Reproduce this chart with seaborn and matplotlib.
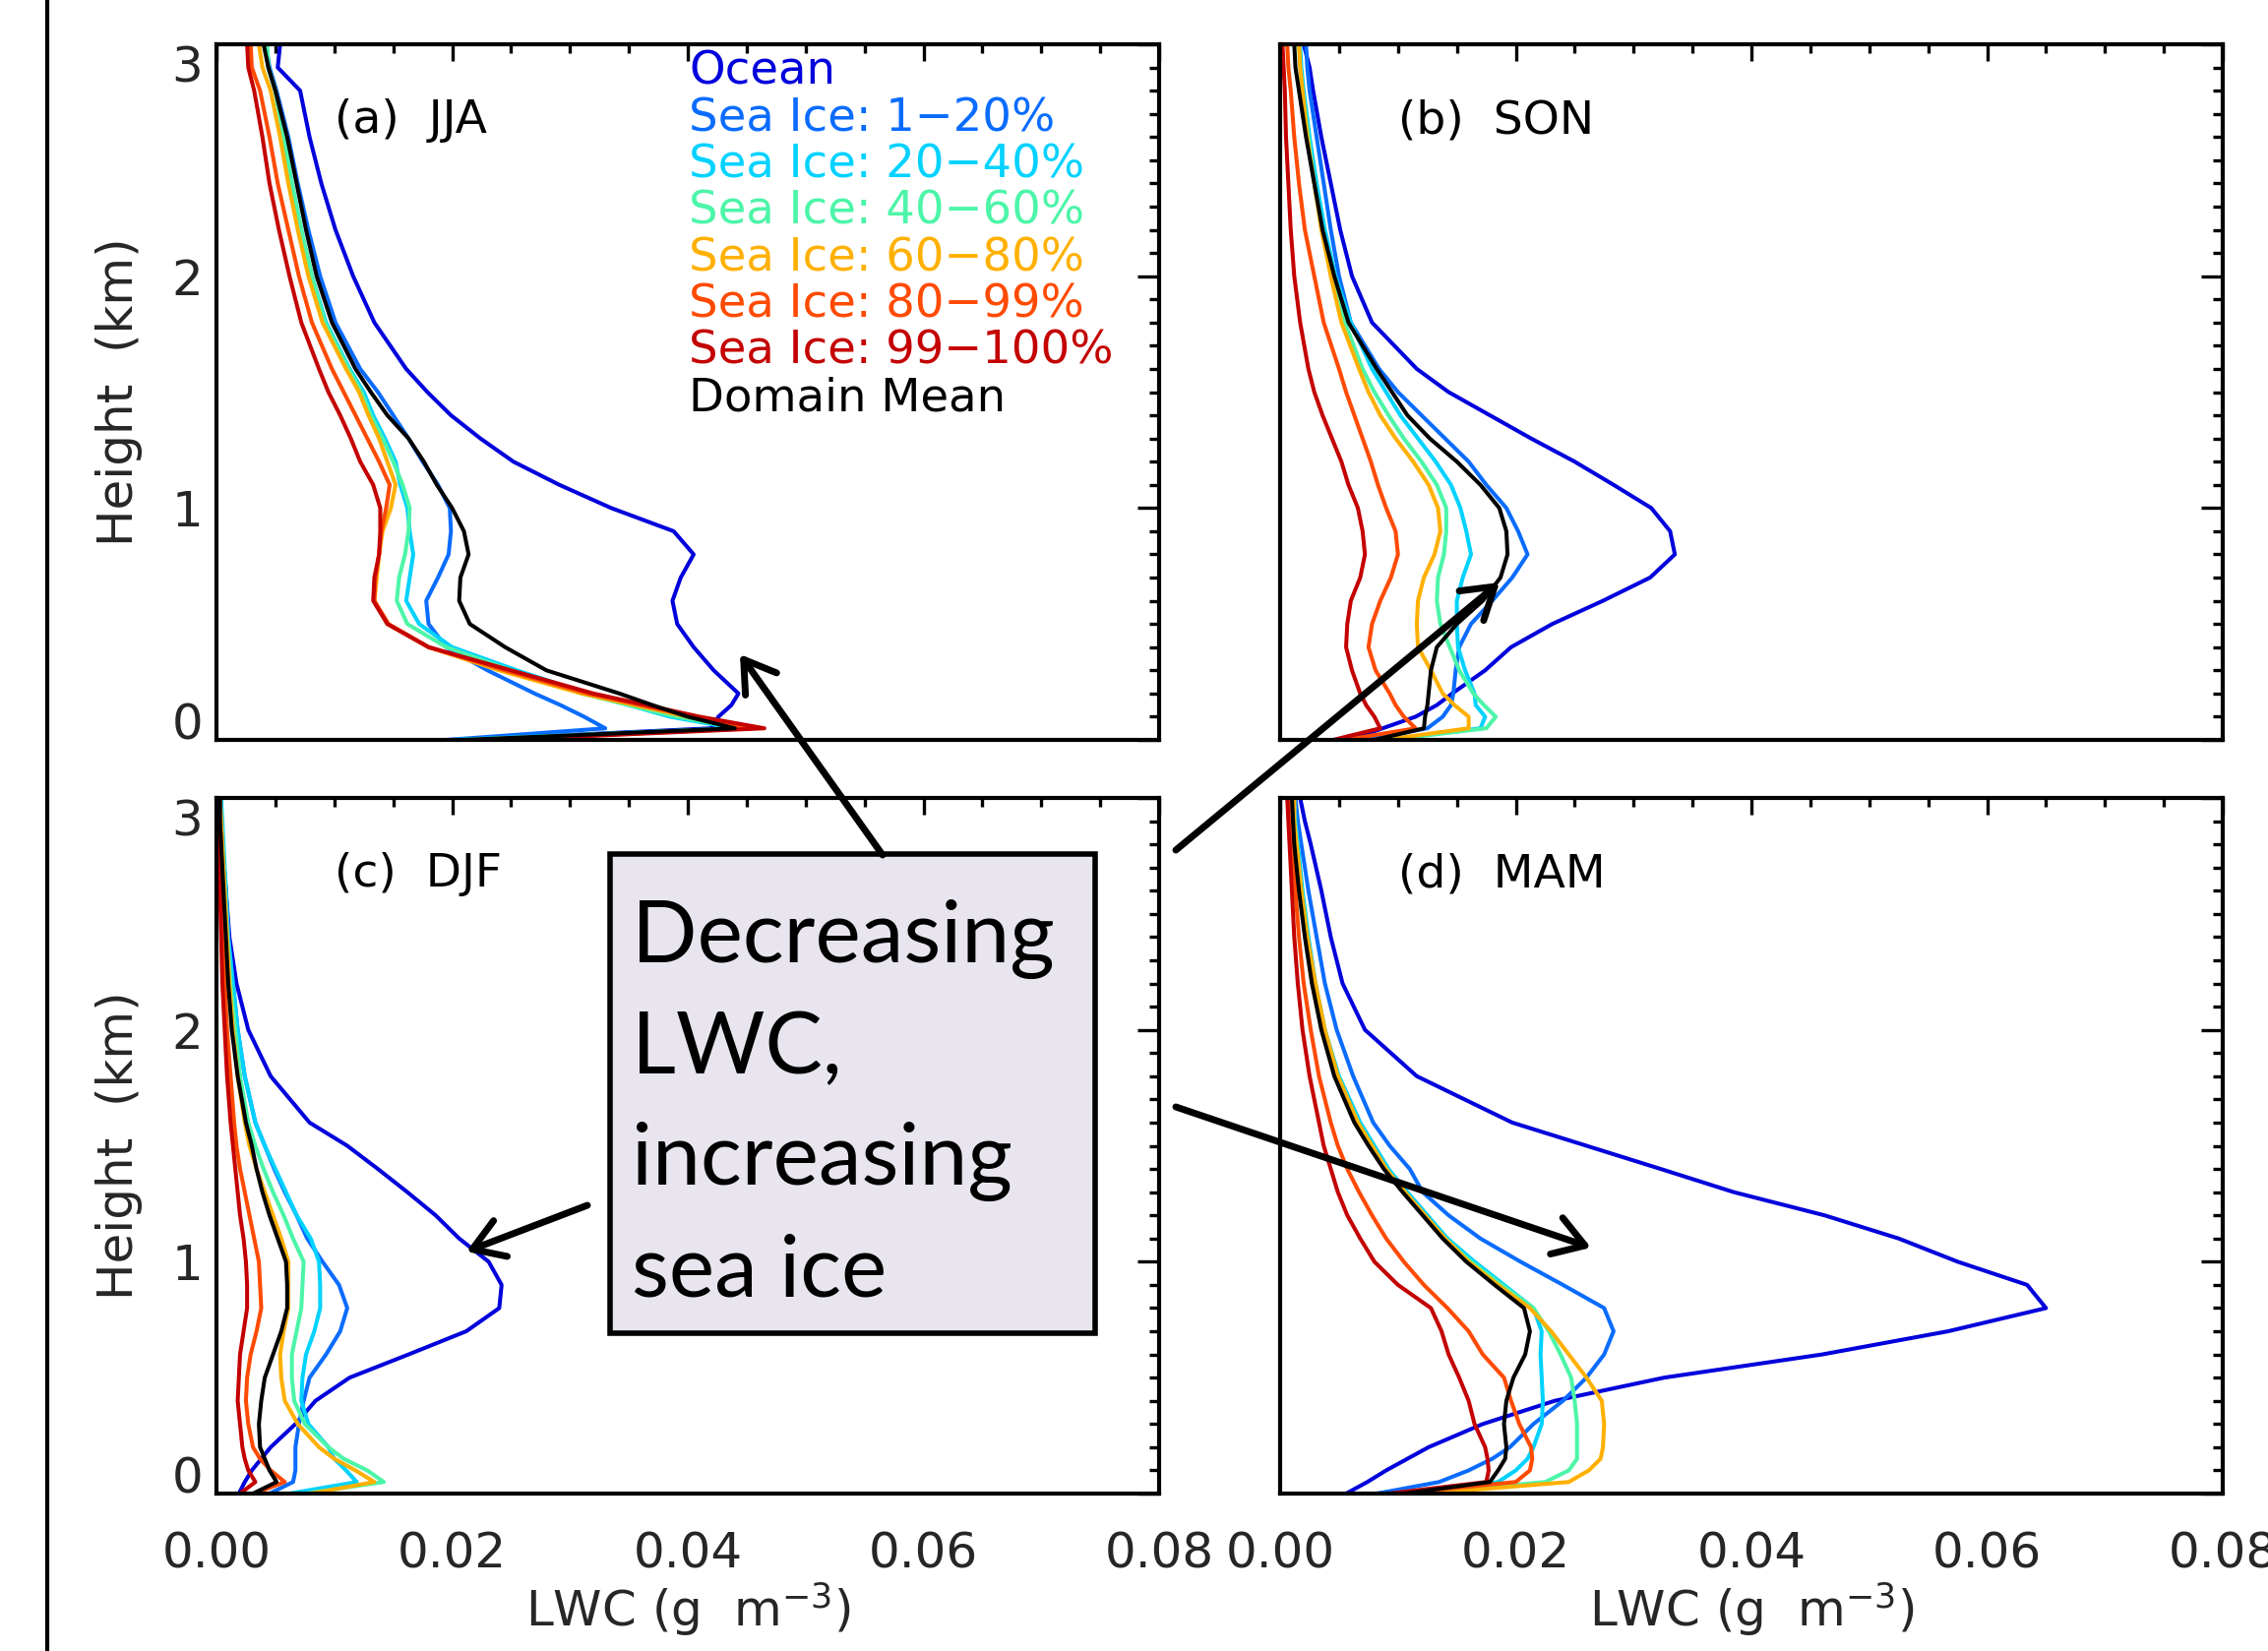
import numpy as np
import pandas as pd
import matplotlib
matplotlib.use("Agg")
import matplotlib.pyplot as plt
import seaborn as sns
from matplotlib.patches import Rectangle, FancyArrowPatch
from matplotlib.lines import Line2D
from matplotlib.ticker import FixedLocator, MultipleLocator, FormatStrFormatter

# ---------------- data ----------------
heights = [0.0, 0.05, 0.1, 0.15, 0.2, 0.3, 0.4, 0.5, 0.6, 0.7, 0.8, 0.9, 1.0, 1.1,
           1.2, 1.3, 1.4, 1.5, 1.6, 1.8, 2.0, 2.2, 2.4, 2.6, 2.8, 2.9, 3.0]

series_names = ["Ocean", "Sea Ice: 1\u221220%", "Sea Ice: 20\u221240%", "Sea Ice: 40\u221260%",
                "Sea Ice: 60\u221280%", "Sea Ice: 80\u221299%", "Sea Ice: 99\u2212100%", "Domain Mean"]
series_colors = ["#0000DC", "#0A6CFF", "#00D2FF", "#4CF5A8", "#FFB000", "#FF4A00", "#C40000", "#000000"]

# (a) JJA
jja_ocean = [0.021, 0.0420, 0.0426, 0.0437, 0.0443, 0.0422, 0.0405, 0.0391, 0.0387, 0.0394, 0.0405, 0.0388, 0.0335, 0.0291, 0.0252, 0.0224, 0.0199, 0.0179, 0.0161, 0.0134, 0.0116, 0.0101, 0.0089, 0.0079, 0.0071, 0.0052, 0.0054]
jja_si_1_20 = [0.0195, 0.0330, 0.0312, 0.0292, 0.0270, 0.0230, 0.0195, 0.0180, 0.0178, 0.0188, 0.0197, 0.0199, 0.0198, 0.0188, 0.0175, 0.0163, 0.0150, 0.0137, 0.0122, 0.0101, 0.0088, 0.0078, 0.0069, 0.0061, 0.0051, 0.0045, 0.0042]
jja_si_20_40 = [0.020, 0.0440, 0.0385, 0.0350, 0.0315, 0.0255, 0.0200, 0.0172, 0.0161, 0.0164, 0.0167, 0.0164, 0.0162, 0.0156, 0.0152, 0.0143, 0.0133, 0.0125, 0.0113, 0.0093, 0.0081, 0.0072, 0.0064, 0.0057, 0.0050, 0.0044, 0.0042]
jja_si_40_60 = [0.021, 0.0445, 0.0390, 0.0350, 0.0310, 0.0250, 0.0195, 0.0162, 0.0153, 0.0155, 0.0160, 0.0163, 0.0164, 0.0158, 0.0150, 0.0141, 0.0131, 0.0123, 0.0112, 0.0092, 0.0081, 0.0072, 0.0064, 0.0057, 0.0050, 0.0044, 0.0043]
jja_si_60_80 = [0.022, 0.0455, 0.0400, 0.0355, 0.0310, 0.0240, 0.0180, 0.0145, 0.0134, 0.0136, 0.0138, 0.0141, 0.0148, 0.0152, 0.0145, 0.0138, 0.0129, 0.0121, 0.0110, 0.0090, 0.0078, 0.0069, 0.0061, 0.0054, 0.0046, 0.0039, 0.0036]
jja_si_80_99 = [0.023, 0.0455, 0.0405, 0.0360, 0.0315, 0.0245, 0.0180, 0.0146, 0.0134, 0.0135, 0.0138, 0.0140, 0.0144, 0.0147, 0.0138, 0.0128, 0.0118, 0.0108, 0.0098, 0.0081, 0.0070, 0.0061, 0.0052, 0.0045, 0.0037, 0.0030, 0.0029]
jja_si_99_100 = [0.024, 0.0465, 0.0410, 0.0365, 0.0320, 0.0250, 0.0180, 0.0145, 0.0133, 0.0134, 0.0138, 0.0139, 0.0139, 0.0133, 0.0122, 0.0114, 0.0105, 0.0095, 0.0087, 0.0072, 0.0062, 0.0053, 0.0045, 0.0039, 0.0032, 0.0027, 0.0026]
jja_mean = [0.021, 0.0440, 0.0400, 0.0370, 0.0342, 0.0280, 0.0245, 0.0215, 0.0206, 0.0207, 0.0214, 0.0210, 0.0200, 0.0187, 0.0176, 0.0163, 0.0145, 0.0131, 0.0118, 0.0098, 0.0085, 0.0076, 0.0068, 0.0060, 0.0050, 0.0044, 0.0040]

# (b) SON
son_ocean = [0.0059, 0.0087, 0.0115, 0.0133, 0.0146, 0.0174, 0.0196, 0.0231, 0.0274, 0.0314, 0.0335, 0.0331, 0.0315, 0.0283, 0.0250, 0.0213, 0.0178, 0.0143, 0.0116, 0.0078, 0.0061, 0.0051, 0.0043, 0.0035, 0.0028, 0.0025, 0.0020]
son_si_1_20 = [0.0072, 0.0125, 0.0138, 0.0145, 0.0147, 0.0149, 0.0152, 0.0162, 0.0180, 0.0197, 0.0210, 0.0202, 0.0192, 0.0175, 0.0160, 0.0140, 0.0120, 0.0100, 0.0084, 0.0060, 0.0050, 0.0043, 0.0037, 0.0031, 0.0025, 0.0023, 0.0022]
son_si_20_40 = [0.0090, 0.0170, 0.0174, 0.0166, 0.0165, 0.0157, 0.0151, 0.0150, 0.0150, 0.0155, 0.0162, 0.0158, 0.0153, 0.0145, 0.0132, 0.0117, 0.0102, 0.0090, 0.0078, 0.0060, 0.0047, 0.0038, 0.0031, 0.0025, 0.0020, 0.0018, 0.0017]
son_si_40_60 = [0.0092, 0.0175, 0.0183, 0.0173, 0.0164, 0.0152, 0.0144, 0.0136, 0.0133, 0.0134, 0.0139, 0.0141, 0.0141, 0.0133, 0.0120, 0.0105, 0.0092, 0.0080, 0.0070, 0.0055, 0.0044, 0.0036, 0.0029, 0.0024, 0.0019, 0.0017, 0.0016]
son_si_60_80 = [0.0088, 0.0160, 0.0160, 0.0148, 0.0138, 0.0128, 0.0117, 0.0116, 0.0117, 0.0122, 0.0131, 0.0136, 0.0134, 0.0126, 0.0113, 0.0098, 0.0085, 0.0075, 0.0067, 0.0052, 0.0043, 0.0035, 0.0029, 0.0023, 0.0019, 0.0017, 0.0016]
son_si_80_99 = [0.0055, 0.0115, 0.0105, 0.0098, 0.0093, 0.0081, 0.0075, 0.0078, 0.0085, 0.0094, 0.0100, 0.0098, 0.0090, 0.0083, 0.0077, 0.0070, 0.0063, 0.0056, 0.0050, 0.0037, 0.0029, 0.0021, 0.0016, 0.0012, 0.0009, 0.0007, 0.0006]
son_si_99_100 = [0.0045, 0.0085, 0.0080, 0.0073, 0.0068, 0.0061, 0.0056, 0.0057, 0.0060, 0.0068, 0.0072, 0.0070, 0.0066, 0.0058, 0.0052, 0.0044, 0.0036, 0.0029, 0.0024, 0.0017, 0.0012, 0.0009, 0.0007, 0.0005, 0.0004, 0.0003, 0.0002]
son_mean = [0.0080, 0.0122, 0.0123, 0.0125, 0.0126, 0.0128, 0.0133, 0.0150, 0.0172, 0.0187, 0.0193, 0.0192, 0.0186, 0.0170, 0.0150, 0.0127, 0.0108, 0.0095, 0.0082, 0.0058, 0.0046, 0.0036, 0.0029, 0.0022, 0.0016, 0.0013, 0.0012]

# (c) DJF
djf_ocean = [0.0019, 0.0024, 0.0030, 0.0038, 0.0046, 0.0067, 0.0084, 0.0113, 0.0163, 0.0212, 0.0240, 0.0242, 0.0231, 0.0206, 0.0186, 0.0162, 0.0137, 0.0111, 0.0079, 0.0046, 0.0027, 0.0017, 0.0011, 0.0008, 0.0005, 0.0004, 0.0004]
djf_si_1_20 = [0.0045, 0.0065, 0.0067, 0.0067, 0.0067, 0.0070, 0.0074, 0.0079, 0.0093, 0.0105, 0.0111, 0.0104, 0.0090, 0.0077, 0.0068, 0.0058, 0.0049, 0.0041, 0.0033, 0.0024, 0.0018, 0.0014, 0.0010, 0.0008, 0.0005, 0.0004, 0.0003]
djf_si_20_40 = [0.0062, 0.0119, 0.0110, 0.0100, 0.0095, 0.0078, 0.0072, 0.0073, 0.0076, 0.0083, 0.0088, 0.0088, 0.0087, 0.0080, 0.0068, 0.0059, 0.0050, 0.0041, 0.0033, 0.0024, 0.0018, 0.0014, 0.0010, 0.0008, 0.0006, 0.0005, 0.0004]
djf_si_40_60 = [0.0075, 0.0142, 0.0128, 0.0108, 0.0095, 0.0075, 0.0066, 0.0064, 0.0064, 0.0068, 0.0072, 0.0073, 0.0074, 0.0065, 0.0057, 0.0048, 0.0040, 0.0033, 0.0027, 0.0020, 0.0016, 0.0012, 0.0009, 0.0007, 0.0005, 0.0004, 0.0003]
djf_si_60_80 = [0.0080, 0.0134, 0.0118, 0.0100, 0.0087, 0.0069, 0.0058, 0.0055, 0.0054, 0.0057, 0.0061, 0.0061, 0.0061, 0.0055, 0.0048, 0.0041, 0.0034, 0.0028, 0.0024, 0.0018, 0.0014, 0.0011, 0.0009, 0.0007, 0.0005, 0.0004, 0.0003]
djf_si_80_99 = [0.0032, 0.0058, 0.0046, 0.0037, 0.0031, 0.0027, 0.0025, 0.0026, 0.0029, 0.0034, 0.0038, 0.0037, 0.0036, 0.0032, 0.0028, 0.0024, 0.0020, 0.0017, 0.0015, 0.0012, 0.0009, 0.0007, 0.0006, 0.0005, 0.0004, 0.0003, 0.0003]
djf_si_99_100 = [0.0020, 0.0033, 0.0027, 0.0024, 0.0022, 0.0020, 0.0018, 0.0019, 0.0020, 0.0023, 0.0026, 0.0026, 0.0025, 0.0023, 0.0020, 0.0018, 0.0016, 0.0014, 0.0012, 0.0009, 0.0007, 0.0005, 0.0004, 0.0003, 0.0002, 0.0002, 0.0002]
djf_mean = [0.0031, 0.0051, 0.0045, 0.0041, 0.0037, 0.0036, 0.0038, 0.0041, 0.0048, 0.0055, 0.0060, 0.0060, 0.0059, 0.0052, 0.0045, 0.0039, 0.0034, 0.0030, 0.0025, 0.0018, 0.0013, 0.0010, 0.0008, 0.0006, 0.0004, 0.0003, 0.0003]

# (d) MAM
mam_ocean = [0.0056, 0.0074, 0.0090, 0.0108, 0.0126, 0.0172, 0.0233, 0.0326, 0.0460, 0.0567, 0.0650, 0.0634, 0.0575, 0.0525, 0.0462, 0.0385, 0.0323, 0.0260, 0.0197, 0.0116, 0.0072, 0.0053, 0.0043, 0.0035, 0.0026, 0.0021, 0.0017]
mam_si_1_20 = [0.0082, 0.0135, 0.0160, 0.0180, 0.0195, 0.0215, 0.0240, 0.0260, 0.0275, 0.0283, 0.0275, 0.0240, 0.0204, 0.0170, 0.0143, 0.0121, 0.0110, 0.0093, 0.0079, 0.0062, 0.0048, 0.0038, 0.0031, 0.0024, 0.0018, 0.0015, 0.0013]
mam_si_20_40 = [0.0120, 0.0185, 0.0200, 0.0210, 0.0215, 0.0222, 0.0223, 0.0222, 0.0221, 0.0222, 0.0215, 0.0190, 0.0165, 0.0142, 0.0125, 0.0108, 0.0092, 0.0080, 0.0068, 0.0050, 0.0038, 0.0030, 0.0024, 0.0019, 0.0015, 0.0013, 0.0012]
mam_si_40_60 = [0.0120, 0.0225, 0.0245, 0.0252, 0.0252, 0.0252, 0.0250, 0.0247, 0.0238, 0.0228, 0.0215, 0.0188, 0.0162, 0.0140, 0.0122, 0.0106, 0.0090, 0.0078, 0.0066, 0.0049, 0.0037, 0.0029, 0.0023, 0.0018, 0.0014, 0.0012, 0.0011]
mam_si_60_80 = [0.0125, 0.0245, 0.0262, 0.0272, 0.0274, 0.0275, 0.0273, 0.0260, 0.0245, 0.0230, 0.0212, 0.0185, 0.0160, 0.0140, 0.0123, 0.0106, 0.0090, 0.0078, 0.0066, 0.0049, 0.0038, 0.0030, 0.0023, 0.0018, 0.0014, 0.0012, 0.0012]
mam_si_80_99 = [0.0100, 0.0200, 0.0212, 0.0214, 0.0213, 0.0203, 0.0196, 0.0190, 0.0172, 0.0160, 0.0142, 0.0122, 0.0105, 0.0090, 0.0078, 0.0067, 0.0057, 0.0049, 0.0043, 0.0033, 0.0026, 0.0020, 0.0016, 0.0013, 0.0010, 0.0009, 0.0008]
mam_si_99_100 = [0.0092, 0.0175, 0.0177, 0.0176, 0.0174, 0.0165, 0.0160, 0.0152, 0.0143, 0.0137, 0.0128, 0.0100, 0.0080, 0.0068, 0.0057, 0.0049, 0.0043, 0.0037, 0.0033, 0.0025, 0.0019, 0.0015, 0.0012, 0.0010, 0.0008, 0.0007, 0.0006]
mam_mean = [0.0105, 0.0178, 0.0185, 0.0191, 0.0192, 0.0190, 0.0192, 0.0198, 0.0208, 0.0212, 0.0207, 0.0182, 0.0158, 0.0138, 0.0121, 0.0104, 0.0088, 0.0075, 0.0063, 0.0046, 0.0035, 0.0027, 0.0021, 0.0016, 0.0012, 0.0011, 0.0010]

panel_labels = ["(a)  JJA", "(b)  SON", "(c)  DJF", "(d)  MAM"]
panel_series = [
    [jja_ocean, jja_si_1_20, jja_si_20_40, jja_si_40_60, jja_si_60_80, jja_si_80_99, jja_si_99_100, jja_mean],
    [son_ocean, son_si_1_20, son_si_20_40, son_si_40_60, son_si_60_80, son_si_80_99, son_si_99_100, son_mean],
    [djf_ocean, djf_si_1_20, djf_si_20_40, djf_si_40_60, djf_si_60_80, djf_si_80_99, djf_si_99_100, djf_mean],
    [mam_ocean, mam_si_1_20, mam_si_20_40, mam_si_40_60, mam_si_60_80, mam_si_80_99, mam_si_99_100, mam_mean],
]
x_ticks = [0.0, 0.02, 0.04, 0.06, 0.08]
y_ticks = [0, 1, 2, 3]
x_label = "LWC (g  m$^{-3}$)"
y_label = "Height  (km)"
box_lines = ["Decreasing", "LWC,", "increasing", "sea ice"]

# ---------------- styling ----------------
sns.set_style("white")
plt.rcParams["font.family"] = ["DejaVu Sans"]
plt.rcParams["mathtext.fontset"] = "dejavusans"

W, H = 2305, 1678
fig = plt.figure(figsize=(W / 100, H / 100), dpi=100)
fig.patch.set_facecolor("white")

def fx(p):
    return p / W

def fy(p):
    return 1 - p / H

AW, AH = 958, 707
origins = [(220, 45), (1301, 45), (220, 811), (1301, 811)]
palette = dict(zip(series_names, series_colors))

axes = []
for i, ((l, t), label, vals) in enumerate(zip(origins, panel_labels, panel_series)):
    ax = fig.add_axes([fx(l), fy(t + AH), AW / W, AH / H])
    axes.append(ax)
    df = pd.concat([pd.DataFrame({"lwc": v, "height": heights, "series": n})
                    for n, v in zip(series_names, vals)], ignore_index=True)
    sns.lineplot(data=df, x="lwc", y="height", hue="series", hue_order=series_names,
                 palette=palette, orient="y", sort=False, estimator=None,
                 legend=False, linewidth=2.9, ax=ax)
    ax.set_xlim(0, 0.08)
    ax.set_ylim(0, 3)
    ax.xaxis.set_major_locator(FixedLocator(x_ticks))
    ax.xaxis.set_minor_locator(MultipleLocator(0.005))
    ax.yaxis.set_major_locator(FixedLocator(y_ticks))
    ax.yaxis.set_minor_locator(MultipleLocator(0.1))
    ax.xaxis.set_major_formatter(FormatStrFormatter("%.2f"))
    ax.yaxis.set_major_formatter(FormatStrFormatter("%d"))
    for s in ax.spines.values():
        s.set_linewidth(3.0)
        s.set_color("black")
        s.set_zorder(5)
    ax.tick_params(axis="both", which="both", direction="in", top=True, right=True,
                   color="black", width=2.4)
    ax.tick_params(axis="x", which="major", length=12, pad=27, labelsize=36)
    ax.tick_params(axis="x", which="minor", length=6.5)
    ax.tick_params(axis="y", which="major", length=16, pad=10, labelsize=36)
    ax.tick_params(axis="y", which="minor", length=7.5)
    ax.set_xlabel("")
    ax.set_ylabel("")
    if i < 2:
        ax.tick_params(axis="x", labelbottom=False)
    else:
        ax.set_xlabel(x_label, fontsize=36)
        ax.xaxis.set_label_coords(0.5, -0.125)
        ax.xaxis.label.set_va("top")
    if i % 2 == 1:
        ax.tick_params(axis="y", labelleft=False)
    else:
        ax.set_ylabel(y_label, fontsize=36)
        ax.yaxis.set_label_coords(-0.078, 0.5)
        yt = ax.yaxis.get_major_ticks()
        yt[-1].label1.set_va("top")
        yt[0].label1.set_va("baseline")
    ax.text(0.125, 0.89, label, transform=ax.transAxes, fontsize=34,
            ha="left", va="center", color="black")

# legend as coloured text in panel (a)
for k, (n, c) in enumerate(zip(series_names, series_colors)):
    axes[0].text(0.501, 0.960 - 0.0670 * k, n, transform=axes[0].transAxes,
                 fontsize=33.5, color=c, ha="left", va="center")

# ---------------- annotation box and arrows ----------------
fig.add_artist(Line2D([fx(48), fx(48)], [0, 1], transform=fig.transFigure,
                      color="black", lw=3, zorder=5))

box = Rectangle((fx(620), fy(1355)), (1113 - 620) / W, (1355 - 868) / H,
                transform=fig.transFigure, facecolor="#E9E5EF", edgecolor="black",
                linewidth=4, zorder=20)
fig.add_artist(box)
for j, line in enumerate(box_lines):
    fig.text(fx(642), fy(978 + 113 * j), line, fontfamily=["Lato", "DejaVu Sans"],
             fontsize=63, ha="left", va="baseline", color="black", zorder=21)

arrows = [((897, 869), (752, 665)),
          ((1195, 864), (1524, 592)),
          ((597, 1225), (474, 1272)),
          ((1195, 1125), (1617, 1268))]
for (x0, y0), (x1, y1) in arrows:
    fig.add_artist(FancyArrowPatch((fx(x0), fy(y0)), (fx(x1), fy(y1)),
                                   transform=fig.transFigure,
                                   arrowstyle="->,head_length=0.55,head_width=0.35",
                                   mutation_scale=40, lw=5, color="black",
                                   shrinkA=0, shrinkB=0, zorder=22))

fig.savefig("out.png", dpi=100, facecolor="white")
